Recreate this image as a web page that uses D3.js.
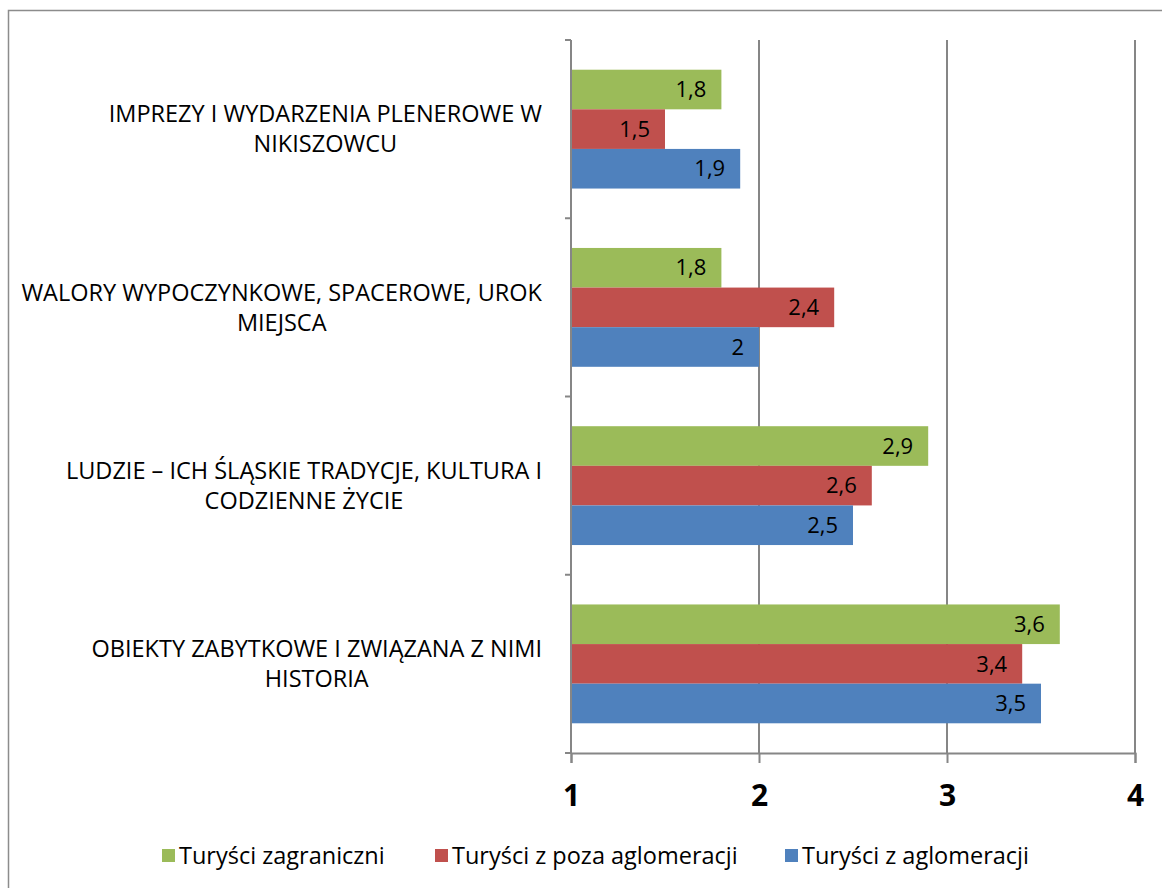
<!DOCTYPE html>
<html>
<head>
<meta charset="utf-8">
<script src="https://cdn.jsdelivr.net/npm/d3@7"></script>
<style>
  body { margin: 0; background: #fff; }
  text { font-family: "Open Sans", sans-serif; fill: #000; }
</style>
</head>
<body>
<div id="chart"></div>
<script>
// categories, top to bottom
var categories = [
  ["IMPREZY I WYDARZENIA PLENEROWE W", "NIKISZOWCU"],
  ["WALORY WYPOCZYNKOWE, SPACEROWE, UROK", "MIEJSCA"],
  ["LUDZIE \u2013 ICH ŚLĄSKIE TRADYCJE, KULTURA I", "CODZIENNE ŻYCIE"],
  ["OBIEKTY ZABYTKOWE I ZWIĄZANA Z NIMI", "HISTORIA"]
];
var seriesNames = ["Turyści zagraniczni", "Turyści z poza aglomeracji", "Turyści z aglomeracji"];
var seriesColors = ["#9bbb59", "#c0504d", "#4f81bd"];
var zagraniczni = [1.8, 1.8, 2.9, 3.6];
var zPoza = [1.5, 2.4, 2.6, 3.4];
var zAglomeracji = [1.9, 2.0, 2.5, 3.5];
var xTicks = [1, 2, 3, 4];

var width = 1162, height = 888;
var svg = d3.select("#chart").append("svg")
    .attr("width", width)
    .attr("height", height);

// chart border
svg.append("rect")
    .attr("x", 8.5).attr("y", 10.5)
    .attr("width", 1200).attr("height", 1000)
    .attr("fill", "none")
    .attr("stroke", "#8c8c8c")
    .attr("stroke-width", 1.5);

var plotLeft = 571, plotRight = 1135, plotTop = 40, plotBottom = 753;

var x = d3.scaleLinear().domain([1, 4]).range([plotLeft, plotRight]);
var keys = categories.map(function(d, i) { return i; });
var y = d3.scaleBand().domain(keys).range([plotTop, plotBottom])
    .paddingInner(1 / 3).paddingOuter(1 / 6);
var ySub = d3.scaleBand().domain([0, 1, 2]).range([0, y.bandwidth()]);

var series = [zagraniczni, zPoza, zAglomeracji];
var fmt = function(v) { return String(v).replace(".", ","); };

// gridlines
svg.append("g")
  .selectAll("line")
  .data(xTicks.slice(1))
  .join("line")
    .attr("x1", function(d) { return x(d); })
    .attr("x2", function(d) { return x(d); })
    .attr("y1", plotTop).attr("y2", plotBottom)
    .attr("stroke", "#868686")
    .attr("stroke-width", 2);

// bars
series.forEach(function(vals, s) {
  var g = svg.append("g");
  g.selectAll("rect")
    .data(vals)
    .join("rect")
      .attr("x", x(1))
      .attr("y", function(d, i) { return y(i) + ySub(s); })
      .attr("width", function(d) { return x(d) - x(1); })
      .attr("height", ySub.bandwidth())
      .attr("fill", seriesColors[s]);
  g.selectAll("text")
    .data(vals)
    .join("text")
      .attr("x", function(d) { return x(d) - 15; })
      .attr("y", function(d, i) { return y(i) + ySub(s) + ySub.bandwidth() / 2; })
      .attr("dy", "0.35em")
      .attr("text-anchor", "end")
      .style("font-size", "22px")
      .text(function(d) { return fmt(d); });
});

// category axis
var step = y.step();
var catTicks = d3.range(categories.length + 1).map(function(i) { return plotTop + i * step; });
svg.append("line")
    .attr("x1", plotLeft).attr("x2", plotLeft)
    .attr("y1", plotTop).attr("y2", plotBottom)
    .attr("stroke", "#868686").attr("stroke-width", 2);
svg.append("g").selectAll("line")
  .data(catTicks)
  .join("line")
    .attr("x1", plotLeft - 6).attr("x2", plotLeft)
    .attr("y1", function(d) { return d; }).attr("y2", function(d) { return d; })
    .attr("stroke", "#868686").attr("stroke-width", 2);

// category labels: centered lines, block right-aligned to the axis
categories.forEach(function(lines, i) {
  var g = svg.append("g");
  var cy = y(i) + y.bandwidth() / 2;
  var texts = lines.map(function(t, j) {
    return g.append("text")
      .attr("y", cy + (j - (lines.length - 1) / 2) * 30)
      .attr("dy", "0.35em")
      .attr("text-anchor", "middle")
      .style("font-size", "23.5px")
      .text(t);
  });
  var maxW = d3.max(texts, function(t) { return t.node().getComputedTextLength(); });
  texts.forEach(function(t) { t.attr("x", 542 - maxW / 2); });
});

// value axis
var xAxis = svg.append("g")
    .attr("transform", "translate(0," + plotBottom + ")")
    .call(d3.axisBottom(x).tickValues(xTicks).tickFormat(d3.format("d")).tickSize(10).tickPadding(22));
xAxis.select(".domain").attr("stroke", "#868686").attr("stroke-width", 2);
xAxis.selectAll(".tick line").attr("stroke", "#868686").attr("stroke-width", 2);
xAxis.selectAll(".tick text")
    .style("font-size", "30px")
    .style("font-weight", "bold")
    .style("font-family", "'Open Sans', sans-serif")
    .attr("fill", "#000");

// legend
var legendX = [162, 435, 785];
var legend = svg.append("g").selectAll("g")
  .data(seriesNames)
  .join("g")
    .attr("transform", function(d, i) { return "translate(" + legendX[i] + ",856)"; });
legend.append("rect")
    .attr("x", 0).attr("y", -7)
    .attr("width", 13).attr("height", 13)
    .attr("fill", function(d, i) { return seriesColors[i]; });
legend.append("text")
    .attr("x", 17)
    .attr("dy", "0.35em")
    .style("font-size", "23.5px")
    .text(function(d) { return d; });
</script>
</body>
</html>
